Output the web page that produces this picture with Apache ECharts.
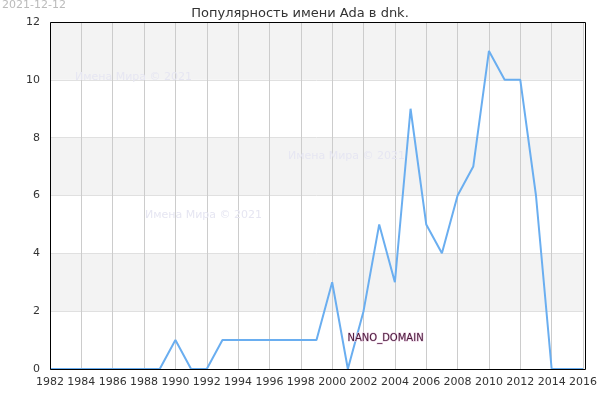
<!DOCTYPE html>
<html>
<head>
<meta charset="utf-8">
<script src="https://cdn.jsdelivr.net/npm/echarts@6/dist/echarts.min.js"></script>
<style>html,body{margin:0;padding:0;background:#fff}#chart{width:600px;height:400px}</style>
</head>
<body>
<div id="chart"></div>
<script>
var years = [];
for (var y = 1982; y <= 2016; y++) years.push(y);
var counts = [0, 0, 0, 0, 0, 0, 0, 0, 1, 0, 0, 1, 1, 1, 1, 1, 1, 1, 3, 0, 2, 5, 3, 9, 5, 4, 6, 7, 11, 10, 10, 6, 0, 0, 0];

var lineData = [];
for (var i = 0; i < years.length; i++) lineData.push([years[i], counts[i]]);

var font = 'DejaVu Sans';
var mark = { fill: '#e6e6f2', font: '11px DejaVu Sans' };
var myChart = echarts.init(document.getElementById('chart'));
var option = {
    animation: false,
    title: {
        text: 'Популярность имени Ada в dnk.',
        left: 'center', top: 2,
        textStyle: { fontFamily: font, fontSize: 13, fontWeight: 'normal', color: '#333' }
    },
    graphic: [
        { type: 'text', z: 100, left: 2, top: 0, style: { text: '2021-12-12', fill: '#bbb', font: '11px DejaVu Sans' } },
        { type: 'text', z: 100, left: 75, top: 72, style: Object.assign({ text: 'Имена Мира © 2021' }, mark) },
        { type: 'text', z: 100, left: 288, top: 151, style: Object.assign({ text: 'Имена Мира © 2021' }, mark) },
        { type: 'text', z: 100, left: 145, top: 210, style: Object.assign({ text: 'Имена Мира © 2021' }, mark) },
        { type: 'text', z: 100, left: 347, top: 333, style: { text: 'NANO_DOMAIN', fill: '#4a1a3a', stroke: '#e8c8e0', lineWidth: 1, font: '10px DejaVu Sans' } },
        { type: 'rect', z: 100, shape: { x: 50.5, y: 22.5, width: 535, height: 347 }, style: { fill: 'none', stroke: '#000', lineWidth: 1 } }
    ],
    grid: { left: 50, right: 15, top: 22, bottom: 31 },
    xAxis: {
        type: 'value', min: 1982, max: 2016, interval: 2,
        axisLine: { show: false }, axisTick: { show: false },
        axisLabel: { fontFamily: font, fontSize: 11, color: '#333', margin: 8, showMinLabel: true, showMaxLabel: true, formatter: function (v) { return String(v); } },
        splitLine: { show: true, lineStyle: { color: '#ccc' } }
    },
    yAxis: {
        type: 'value', min: 0, max: 12, interval: 2,
        axisLine: { show: false }, axisTick: { show: false },
        axisLabel: { fontFamily: font, fontSize: 11, color: '#333', margin: 10 },
        splitLine: { show: true, lineStyle: { color: '#e0e0e0' } },
        splitArea: { show: true, areaStyle: { color: ['#ffffff', '#f3f3f3'] } }
    },
    series: [{
        type: 'line', data: lineData, symbol: 'none',
        lineStyle: { color: '#6aaef0', width: 2 }
    }]
};
myChart.setOption(option);
</script>
</body>
</html>
